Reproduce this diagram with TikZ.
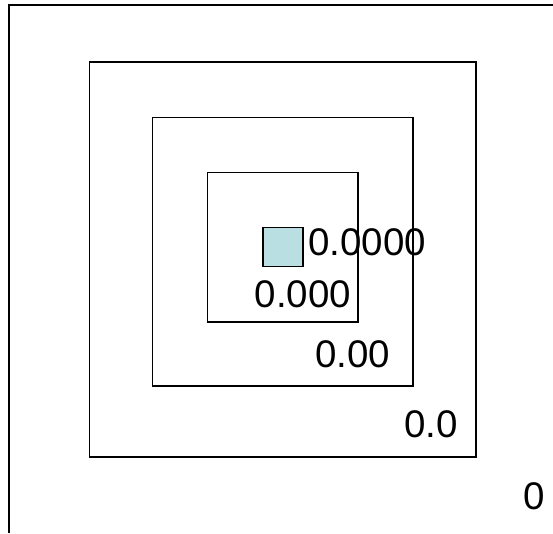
\documentclass[tikz,border=0pt]{standalone}
\usepackage{fontspec}
\setmainfont{Liberation Sans}
\definecolor{sqfill}{RGB}{185,223,227}
\begin{document}
\begin{tikzpicture}[x=1pt,y=-1pt,
  frame/.style={draw=black,line width=1.5pt},
  lbl/.style={anchor=base west,inner sep=0pt,font=\fontsize{38.5}{42}\selectfont}]
\useasboundingbox (0,0) rectangle (553,533);
\draw[frame] (553,5) -- (9,5) -- (9,533);
\node[frame,minimum width=386.5pt,minimum height=395pt,inner sep=0pt,anchor=north west] (r1) at (88.5,61) {};
\node[frame,minimum width=260.5pt,minimum height=268.5pt,inner sep=0pt,anchor=north west] (r2) at (151.5,116.5) {};
\node[frame,minimum width=150.5pt,minimum height=149.5pt,inner sep=0pt,anchor=north west] (r3) at (206.5,171.7) {};
\node[frame,fill=sqfill,minimum width=40pt,minimum height=39pt,inner sep=0pt,anchor=north west] (sq) at (262.3,226.7) {};
\node[lbl] (t4) at (308,255.5) {0.0000};
\node[lbl] (t3) at (254.5,307) {0.000};
\node[lbl] (t2) at (315,367) {0.00};
\node[lbl] (t1) at (404,437.5) {0.0};
\node[lbl] (t0) at (523,509) {0};
\end{tikzpicture}
\end{document}
